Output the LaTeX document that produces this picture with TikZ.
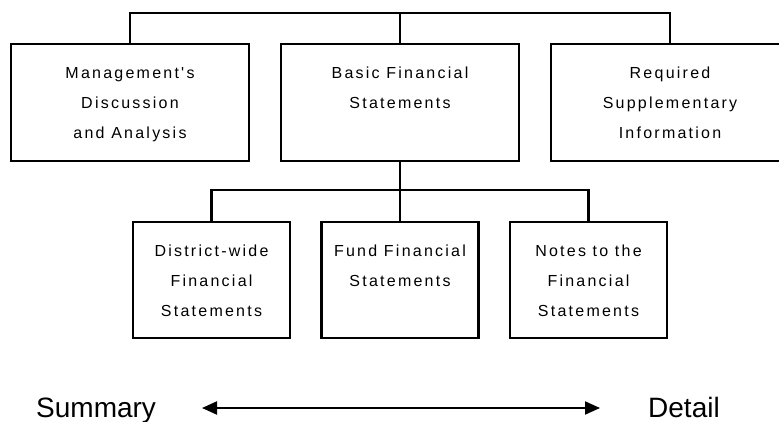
\documentclass[tikz,border=0pt]{standalone}
\usepackage{fontspec}
\setmainfont{Liberation Sans}
\newfontfamily\boxfont[LetterSpace=14]{Liberation Sans}
\usetikzlibrary{arrows.meta,calc}
\begin{document}
\begin{tikzpicture}[x=1pt,y=-1pt,line width=2.4pt,
  topbox/.style={draw,rectangle,inner sep=0pt,outer sep=0pt,minimum width=238pt,minimum height=117pt},
  botbox/.style={draw,rectangle,inner sep=0pt,outer sep=0pt,minimum width=157pt,minimum height=116pt},
  boxtext/.style={anchor=north,align=center,inner sep=0pt,font=\boxfont\fontsize{16}{30}\selectfont},
  endtext/.style={inner sep=0pt,font=\fontsize{28}{30}\selectfont}]
\clip (0,0) rectangle (779,422);
% top row
\node[topbox] (mda) at (130,102.5) {};
\node[topbox] (bfs) at (400,102.5) {};
\node[topbox] (rsi) at (670,102.5) {};
\node[boxtext] (tmda) at ($(mda.north)+(0,22)$) {Management's\\Discussion\\and Analysis};
\node[boxtext] (tbfs) at ($(bfs.north)+(0,22)$) {Basic Financial\\Statements};
\node[boxtext] (trsi) at ($(rsi.north)+(0,22)$) {Required\\Supplementary\\Information};
\coordinate (toprail) at (400,13);
\draw (mda.north) |- (toprail) -| (rsi.north);
\draw (bfs.north) -- (toprail);
% bottom row
\node[botbox] (dwf) at (211.5,280) {};
\node[botbox] (ffs) at (400,280) {};
\node[botbox] (ntf) at (588.5,280) {};
\node[boxtext] (tdwf) at ($(dwf.north)+(0,22)$) {District-wide\\Financial\\Statements};
\node[boxtext] (tffs) at ($(ffs.north)+(0,22)$) {Fund Financial\\Statements};
\node[boxtext] (tntf) at ($(ntf.north)+(0,22)$) {Notes to the\\Financial\\Statements};
\coordinate (midrail) at (400,190);
\draw (bfs.south) -- (midrail);
\draw (dwf.north) |- (midrail) -| (ntf.north);
\draw (ffs.north) -- (midrail);
% summary/detail
\node[endtext,anchor=base west] (sum) at (35,417) {Summary};
\node[endtext,anchor=base west] (det) at (647,417) {Detail};
\coordinate (al) at (202,408);
\coordinate (ar) at (600,408);
\draw[line width=2pt,{Triangle[length=15pt,width=13pt]}-{Triangle[length=15pt,width=13pt]}] (al) -- (ar);
\end{tikzpicture}
\end{document}
